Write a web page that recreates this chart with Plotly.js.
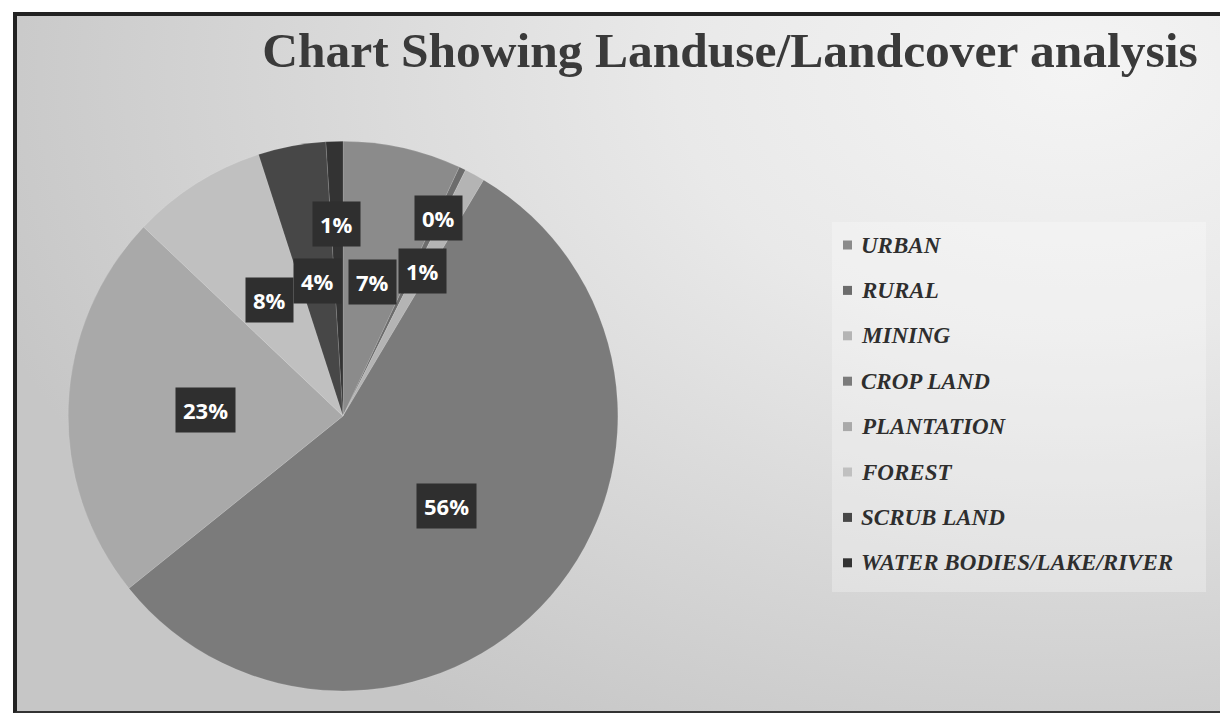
<!DOCTYPE html>
<html>
<head>
<meta charset="utf-8">
<script src="https://cdn.plot.ly/plotly-3.0.1.min.js"></script>
<style>
  html, body { margin: 0; padding: 0; background: #ffffff; }
  #wrap { position: relative; width: 1220px; height: 713px; overflow: hidden; }
  #bg {
    position: absolute; left: 13px; top: 12px; width: 1203px; height: 695px;
    border-left: 4px solid #222; border-top: 4px solid #222; border-bottom: 2px solid #333;
    background: radial-gradient(ellipse 95% 110% at 88% 8%, #f4f4f4 0%, #e9e9e9 35%, #d6d6d6 70%, #c6c6c6 100%);
  }
  #chart { position: absolute; left: 0; top: 0; width: 1220px; height: 713px; }
</style>
</head>
<body>
<div id="wrap">
  <div id="bg"></div>
  <div id="chart"></div>
</div>
<script>
// ---- data ----
const categories = ['URBAN', 'RURAL', 'MINING', 'CROP LAND', 'PLANTATION', 'FOREST', 'SCRUB LAND', 'WATER BODIES/LAKE/RIVER'];
const values = [7, 0.4, 1.2, 56, 23, 8, 4, 1];
const colors = ['#8b8b8b', '#6c6c6c', '#b4b4b4', '#7b7b7b', '#a9a9a9', '#c0c0c0', '#474747', '#333333'];
const titleText = 'Chart Showing Landuse/Landcover analysis';

// ---- layout geometry ----
const W = 1220, H = 713;
const dom = { x: [0.0557, 0.5066], y: [0.031, 0.802] };
const cx = W * (dom.x[0] + dom.x[1]) / 2;
const cy = H * (1 - (dom.y[0] + dom.y[1]) / 2);
const r = Math.min(W * (dom.x[1] - dom.x[0]), H * (dom.y[1] - dom.y[0])) / 2;

const total = values.reduce((a, b) => a + b, 0);

// percentage labels in dark boxes at slice mid-angles; small slices pushed outward to avoid overlap
const LABEL_FONT = 22, PAD = 7;
const mids = [];
let cum = 0;
values.forEach(v => { mids.push((cum + v / 2) / total * 2 * Math.PI); cum += v; });
const texts = values.map(v => Math.round(v / total * 100) + '%');
const boxW = t => t.length * 13 + 2 * PAD + 4;
const boxH = LABEL_FONT * 1.3 + 2 * PAD;
const placed = [];
const pos = new Array(values.length);
const order = values.map((v, i) => i).sort((a, b) => values[b] - values[a]);
order.forEach(i => {
  let f = 0.5, px, py;
  for (; f <= 1.3; f += 0.1) {
    px = cx + f * r * Math.sin(mids[i]);
    py = cy - f * r * Math.cos(mids[i]);
    const w = boxW(texts[i]);
    const hit = placed.some(b => Math.abs(b.x - px) < (b.w + w) / 2 + 2 && Math.abs(b.y - py) < boxH + 2);
    if (!hit) break;
  }
  placed.push({ x: px, y: py, w: boxW(texts[i]) });
  pos[i] = [px, py];
});

const annotations = [];
values.forEach((v, i) => {
  annotations.push({
    x: pos[i][0] / W, y: 1 - pos[i][1] / H, xref: 'paper', yref: 'paper',
    text: texts[i],
    showarrow: false, xanchor: 'center', yanchor: 'middle',
    font: { family: 'Open Sans, Arial, sans-serif', size: LABEL_FONT, color: '#ffffff', weight: 'bold' },
    bgcolor: '#2f2f2f', borderpad: PAD
  });
});

// legend built from categories
const shapes = [{
  type: 'rect', xref: 'paper', yref: 'paper',
  x0: 832 / W, x1: 1206 / W, y0: 1 - 592 / H, y1: 1 - 222 / H,
  fillcolor: 'rgba(255,255,255,0.28)', line: { width: 0 }, layer: 'below'
}];
const legTop = 245, legStep = 45.4;
categories.forEach((c, i) => {
  const yc = legTop + i * legStep;
  shapes.push({
    type: 'rect', xref: 'paper', yref: 'paper',
    x0: 843 / W, x1: 852 / W, y0: 1 - (yc + 4.5) / H, y1: 1 - (yc - 4.5) / H,
    fillcolor: colors[i], line: { width: 0 }
  });
  annotations.push({
    x: 859 / W, y: 1 - yc / H, xref: 'paper', yref: 'paper',
    text: c, showarrow: false, xanchor: 'left', yanchor: 'middle',
    font: { family: 'Liberation Serif, Times New Roman, serif', size: 23, color: '#2e2e2e', weight: 'bold', style: 'italic' }
  });
});

const trace = {
  type: 'pie',
  labels: categories,
  values: values,
  marker: { colors: colors, line: { color: 'rgba(255,255,255,0.25)', width: 0.5 } },
  sort: false,
  direction: 'clockwise',
  rotation: 0,
  textinfo: 'none',
  hoverinfo: 'label+percent',
  domain: dom,
  showlegend: false
};

const layout = {
  width: W, height: H,
  margin: { l: 0, r: 0, t: 0, b: 0 },
  paper_bgcolor: 'rgba(0,0,0,0)',
  plot_bgcolor: 'rgba(0,0,0,0)',
  title: {
    text: titleText,
    x: 730 / W, xanchor: 'center', xref: 'paper',
    y: 1 - 50 / H, yanchor: 'middle', yref: 'container',
    font: { family: 'Liberation Serif, Times New Roman, serif', size: 49.5, color: '#3a3a3a', weight: 'bold' }
  },
  showlegend: false,
  annotations: annotations,
  shapes: shapes
};

Plotly.newPlot('chart', [trace], layout, { displayModeBar: false });
</script>
</body>
</html>
